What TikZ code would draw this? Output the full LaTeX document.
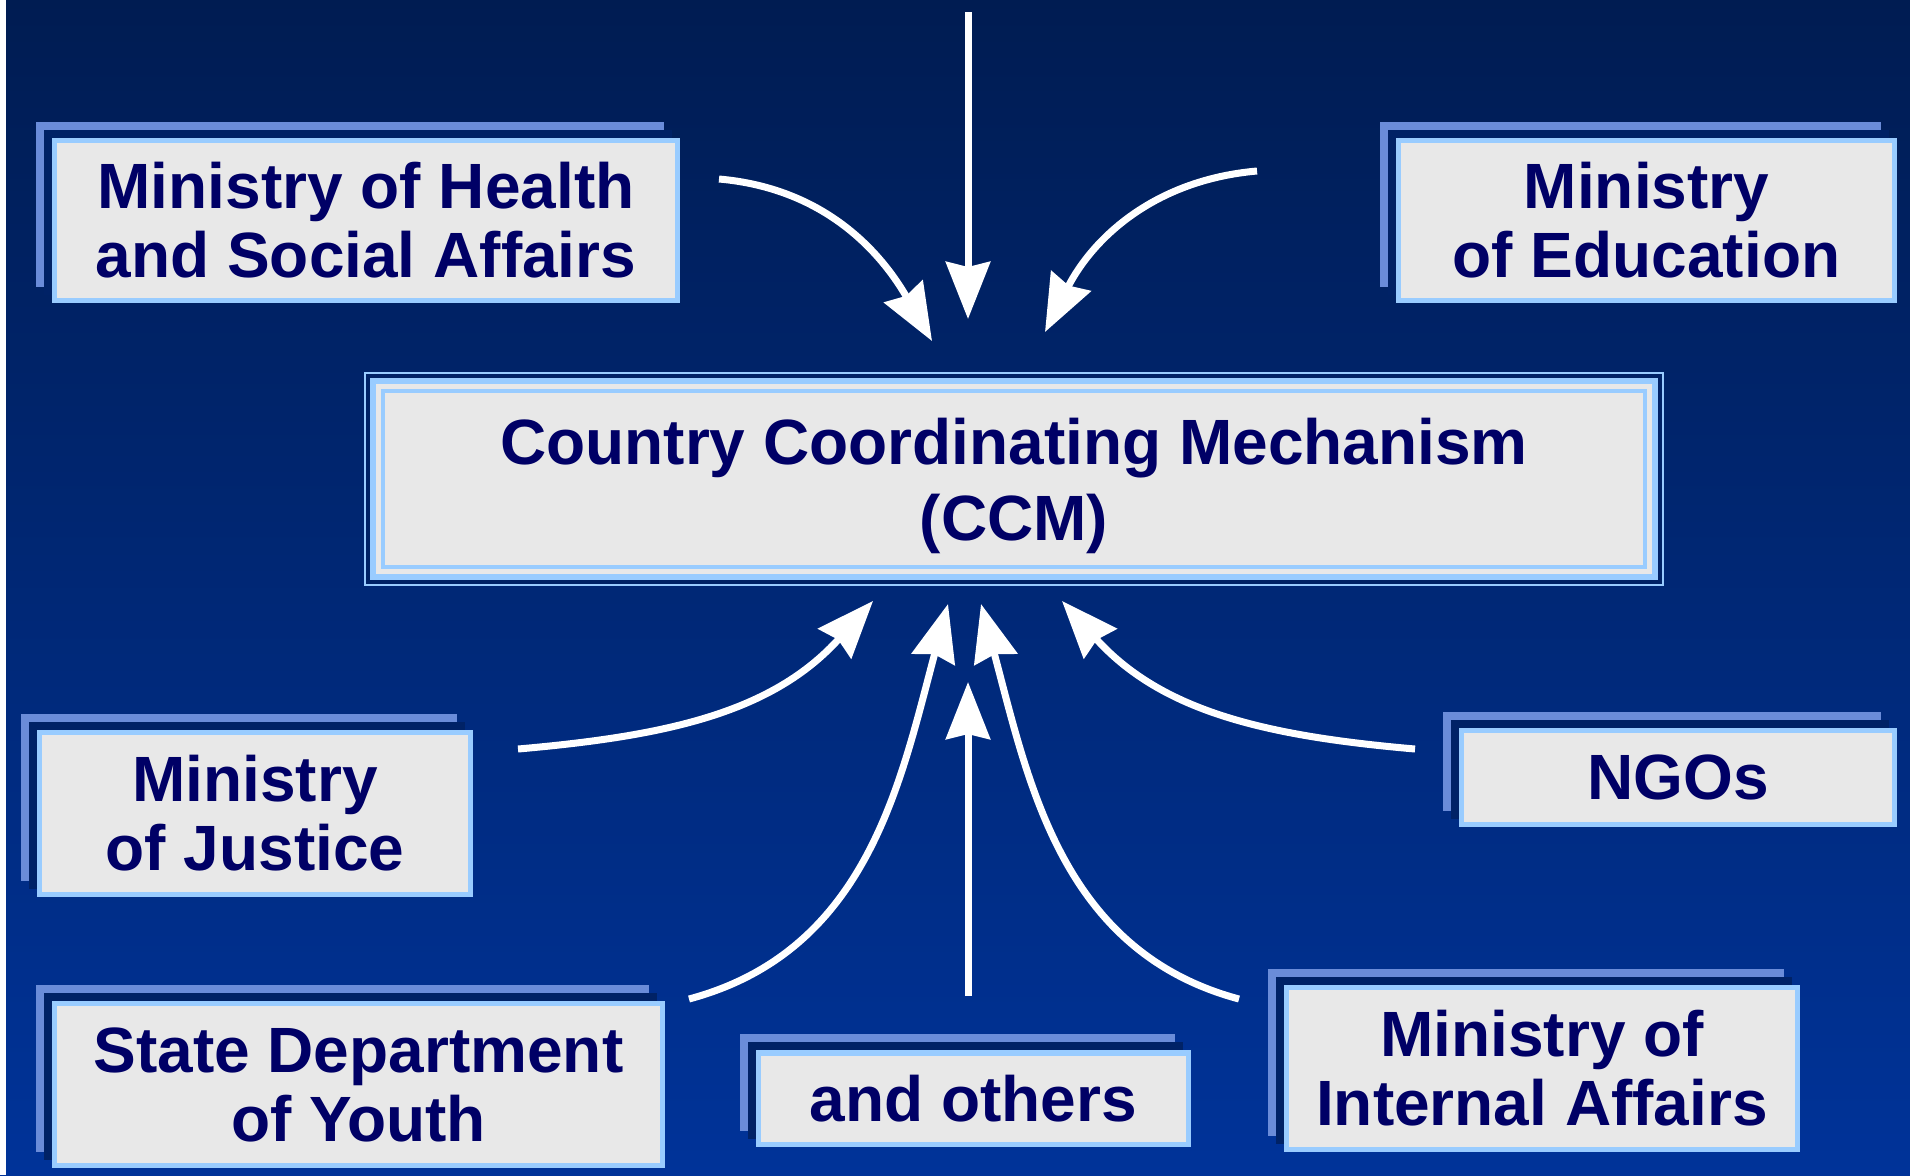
\documentclass[tikz,border=0pt]{standalone}
\usepackage{fontspec}
\setmainfont{Liberation Sans}
\usetikzlibrary{arrows.meta}

\definecolor{bgtop}{HTML}{001C52}
\definecolor{bgbottom}{HTML}{003399}
\definecolor{backblue}{HTML}{6A8CD9}
\definecolor{darkblue}{HTML}{002266}
\definecolor{edgeblue}{HTML}{99CCFF}
\definecolor{boxgray}{HTML}{E8E8E8}
\definecolor{textblue}{HTML}{000066}

\pgfdeclarelayer{backdrop}
\pgfdeclarelayer{shadow}
\pgfsetlayers{backdrop,shadow,main}

\begin{document}
\begin{tikzpicture}[x=0.01cm, y=0.01cm,
        member/.style={fill=boxgray, draw=edgeblue, line width=0.055cm, text=textblue,
            align=center, inner sep=0pt, font=\bfseries\fontsize{18.2pt}{19.6pt}\selectfont},
        link/.style={white, line width=0.07cm, -{Stealth[length=0.57cm, width=0.44cm, inset=0.05cm]}}]
    \useasboundingbox (0,0) rectangle (1910,-1175);

    \node[member, line width=0.04cm, minimum width=12.62cm, minimum height=1.76cm,
        font=\bfseries\fontsize{18.2pt}{21.5pt}\selectfont] (ccm) at (1014,-479)
        {\rule{0pt}{17.3pt}Country Coordinating Mechanism\\(CCM)};
    \node[member, minimum width=6.225cm, minimum height=1.595cm] (health) at (366,-220.5) {Ministry of Health\\and Social Affairs};
    \node[member, minimum width=4.955cm, minimum height=1.595cm] (education) at (1646.5,-220.5) {Ministry\\of Education};
    \node[member, minimum width=4.305cm, minimum height=1.615cm] (justice) at (255,-813.5) {Ministry\\of Justice};
    \node[member, minimum width=4.325cm, minimum height=0.935cm] (ngos) at (1678,-777.5) {NGOs};
    \node[member, minimum width=6.075cm, minimum height=1.615cm] (youth) at (358.5,-1084.5) {State Department\\of Youth};
    \node[member, minimum width=4.295cm, minimum height=0.915cm] (others) at (973.5,-1098.5) {and others};
    \node[member, minimum width=5.105cm, minimum height=1.615cm] (internal) at (1542,-1068.5) {Ministry of\\Internal Affairs};

    \begin{pgfonlayer}{backdrop}
        \shade[top color=bgtop, bottom color=bgbottom] (0,0) rectangle (1910,-1175);
        \fill[white] (0,0) rectangle (6,-1175);
    \end{pgfonlayer}

    \begin{pgfonlayer}{shadow}
        \foreach \n in {health,education,justice,ngos,youth,others,internal} {
            \fill[backblue] ([shift={(-16,16)}]\n.north west) rectangle ([shift={(-16,16)}]\n.south east);
            \fill[darkblue] ([shift={(-8,8)}]\n.north west) rectangle ([shift={(-8,8)}]\n.south east);
        }
        \foreach \d/\c in {17/edgeblue,15/darkblue,11/edgeblue,5/boxgray}
            \fill[\c] ([shift={(-\d,\d)}]ccm.north west) rectangle ([shift={(\d,-\d)}]ccm.south east);
    \end{pgfonlayer}

    \coordinate (topstart) at (968,-12);
    \coordinate (toptip) at (968,-319);
    \coordinate (healthstart) at (719,-179);
    \coordinate (healthtip) at (932,-341);
    \coordinate (educationstart) at (1257,-171);
    \coordinate (educationtip) at (1045,-332);
    \coordinate (justicestart) at (518,-749);
    \coordinate (justicetip) at (873,-601);
    \coordinate (ngosstart) at (1415,-749);
    \coordinate (ngostip) at (1062,-601);
    \coordinate (youthstart) at (689,-999);
    \coordinate (youthtip) at (948,-604);
    \coordinate (internalstart) at (1239,-999);
    \coordinate (internaltip) at (981,-604);
    \coordinate (othersstart) at (968,-996);
    \coordinate (otherstip) at (968,-682);

    \draw[link] (topstart) -- (toptip);
    \draw[link] (healthstart) to[out=-5, in=120] (healthtip);
    \draw[link] (educationstart) to[out=185, in=63] (educationtip);
    \draw[link] (justicestart) to[out=5, in=228] (justicetip);
    \draw[link] (ngosstart) to[out=175, in=312] (ngostip);
    \draw[link] (youthstart) to[out=15, in=255] (youthtip);
    \draw[link] (internalstart) to[out=165, in=285] (internaltip);
    \draw[link] (othersstart) -- (otherstip);
\end{tikzpicture}
\end{document}
